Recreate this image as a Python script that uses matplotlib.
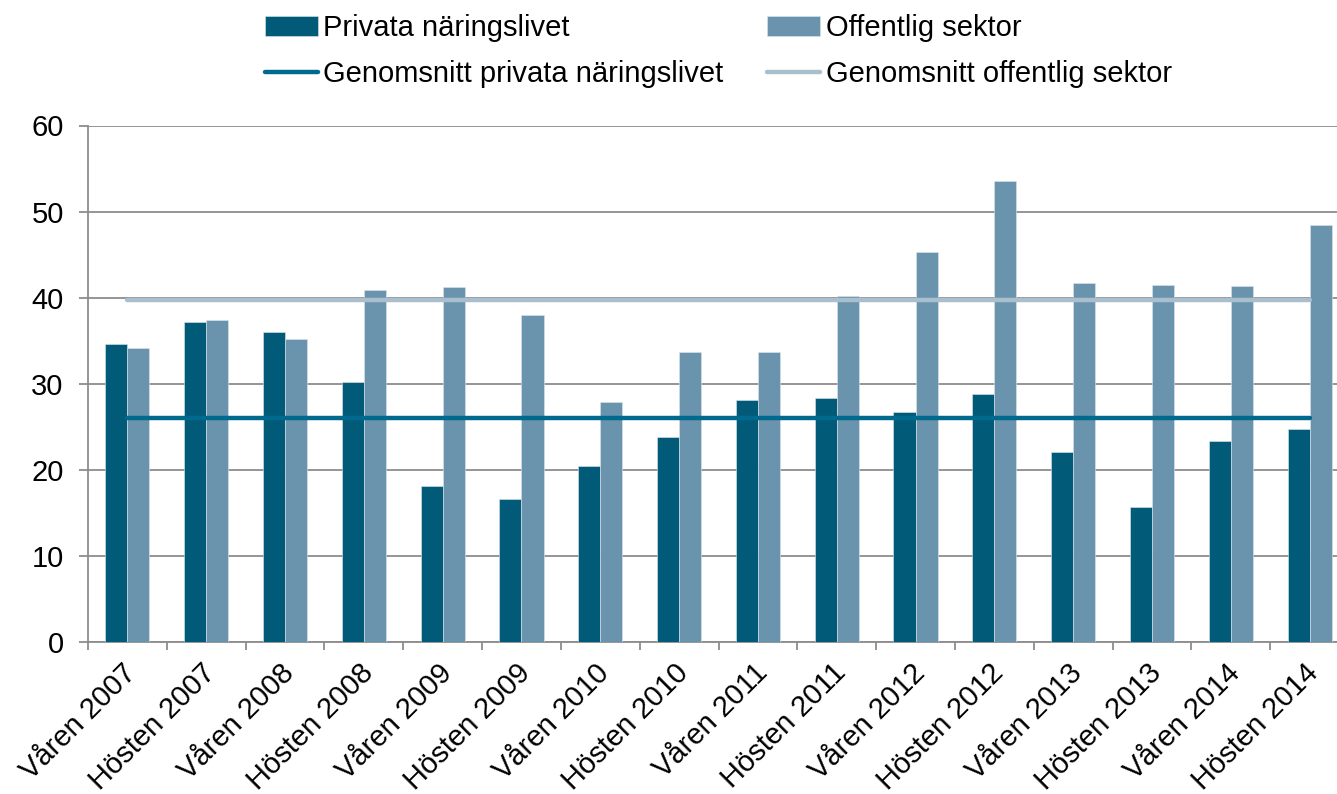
import numpy as np
import matplotlib
matplotlib.use('Agg')
import matplotlib.pyplot as plt
import matplotlib.transforms as mtransforms

# Data
periods = ['Våren 2007', 'Hösten 2007', 'Våren 2008', 'Hösten 2008',
           'Våren 2009', 'Hösten 2009', 'Våren 2010', 'Hösten 2010',
           'Våren 2011', 'Hösten 2011', 'Våren 2012', 'Hösten 2012',
           'Våren 2013', 'Hösten 2013', 'Våren 2014', 'Hösten 2014']
privata = [34.6, 37.2, 36.0, 30.2, 18.1, 16.6, 20.5, 23.8,
           28.1, 28.3, 26.7, 28.8, 22.1, 15.7, 23.3, 24.8]
offentlig = [34.2, 37.4, 35.2, 40.9, 41.2, 38.0, 27.9, 33.7,
             33.7, 40.2, 45.3, 53.6, 41.7, 41.5, 41.3, 48.4]
snitt_privata = 26.0
snitt_offentlig = 39.7

# Colors
c_priv = '#005A78'
c_off = '#6A93AD'
c_priv_avg = '#006A8E'
c_off_avg = '#AABFCD'
c_axis = '#8C8C8C'

plt.rcParams['font.family'] = ['Liberation Sans', 'DejaVu Sans']

fig = plt.figure(figsize=(13.37, 7.94), dpi=100)
ax = fig.add_axes([88 / 1337, 1 - 642 / 794, 1261 / 1337, 516.5 / 794])

x = np.arange(len(periods))
w = 0.28
ax.bar(x - w / 2, privata, w, color=c_priv, edgecolor='#DDE6EC', linewidth=0.4,
       label='Privata näringslivet', zorder=3)
ax.bar(x + w / 2, offentlig, w, color=c_off, edgecolor='#DDE6EC', linewidth=0.4,
       label='Offentlig sektor', zorder=3)

ax.plot([x[0], x[-1]], [snitt_privata] * 2, color=c_priv_avg, lw=3.2,
        solid_capstyle='round', label='Genomsnitt privata näringslivet', zorder=4)
ax.plot([x[0], x[-1]], [snitt_offentlig] * 2, color=c_off_avg, lw=3.2,
        solid_capstyle='round', label='Genomsnitt offentlig sektor', zorder=4)

ax.set_xlim(-0.5, len(periods) - 0.5)
ax.set_ylim(0, 60)
ax.set_yticks(range(0, 61, 10))
ax.yaxis.grid(True, color=c_axis, linewidth=1.3, zorder=0)
ax.set_axisbelow(True)

# category boundary ticks on x, labels at category centres
ax.set_xticks(np.arange(-0.5, len(periods) - 0.5, 1.0))
ax.set_xticklabels([])
ax.set_xticks(x, minor=True)
ax.set_xticklabels(periods, minor=True, rotation=45, ha='right', va='top',
                   rotation_mode='anchor', fontsize=21)
ax.tick_params(axis='x', which='minor', length=0, pad=12)
ax.tick_params(axis='x', which='major', length=6, width=1.3, color=c_axis)
ax.tick_params(axis='y', length=6.5, width=1.3, color=c_axis, labelsize=21, pad=11)

# nudge rotated labels a little to the left
shift = mtransforms.ScaledTranslation(-5 / 100, 0, fig.dpi_scale_trans)
for lab in ax.xaxis.get_minorticklabels():
    lab.set_transform(lab.get_transform() + shift)

for side in ['top', 'right']:
    ax.spines[side].set_visible(False)
for side in ['left', 'bottom']:
    ax.spines[side].set_color(c_axis)
    ax.spines[side].set_linewidth(1.3)

h, l = ax.get_legend_handles_labels()
h = [h[i] for i in [2, 0, 3, 1]]
l = [l[i] for i in [2, 0, 3, 1]]
fig.legend(h, l, ncol=2, loc='upper left', bbox_to_anchor=(265 / 1337, 1 - 14 / 794),
           frameon=False, fontsize=21, borderpad=0, borderaxespad=0,
           handlelength=1.8, handletextpad=0.2, columnspacing=1.5,
           labelspacing=0.62)

fig.savefig('out.png', dpi=100)
